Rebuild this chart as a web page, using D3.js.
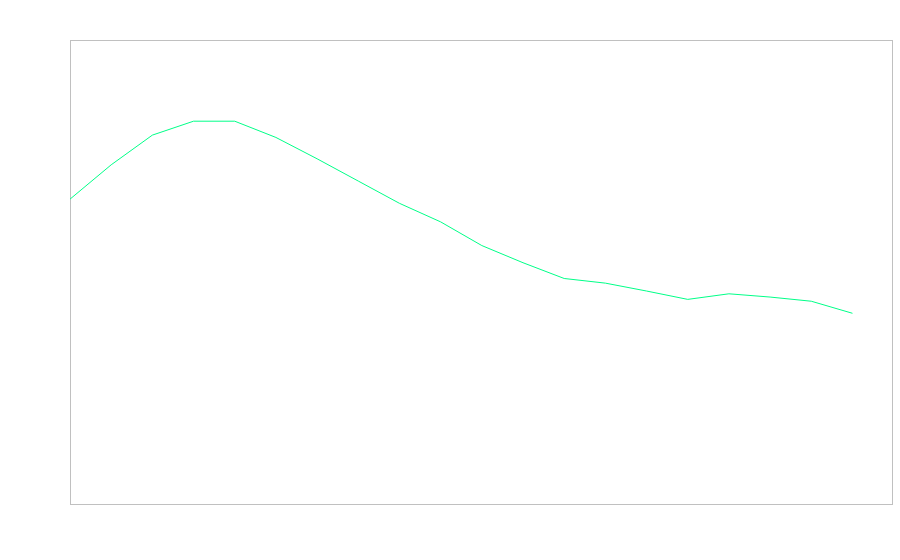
<!DOCTYPE html>
<html>
<head>
<meta charset="utf-8">
<script src="https://cdn.jsdelivr.net/npm/d3@7"></script>
<style>
  body { margin:0; background:#fff; }
</style>
</head>
<body>
<div id="chart"></div>
<script>
// series, one point per step
const steps = d3.range(20);
const values = [65.7,73.1,79.5,82.5,82.5,79.0,74.4,69.6,64.8,60.8,55.7,52.0,48.6,47.6,45.9,44.1,45.3,44.6,43.7,41.1];
const xDomain = [0,19.96];
const yDomain = [0,100];

function renderLine() {
  const margin = {top:40,right:8,bottom:56,left:70},
        width = 900 - margin.left - margin.right,
        height = 560 - margin.top - margin.bottom;

  const svg = d3.select("#chart").append("svg")
    .attr("width", 900).attr("height", 560)
    .append("g").attr("transform",`translate(${margin.left},${margin.top})`);

  const x = d3.scaleLinear().domain(xDomain).range([0,width]);
  const y = d3.scaleLinear().domain(yDomain).range([height,0]);

  svg.append("rect").attr("x",0.5).attr("y",0.5)
    .attr("width",width).attr("height",height)
    .attr("fill","none").attr("stroke","#c0c0c0").attr("stroke-width",1);

  const line = d3.line().x((d,i)=>x(steps[i])).y(d=>y(d));
  svg.append("path").datum(values)
    .attr("fill","none").attr("stroke","#00ff88").attr("stroke-width",1)
    .attr("d",line);
}
renderLine();
</script>
</body>
</html>
